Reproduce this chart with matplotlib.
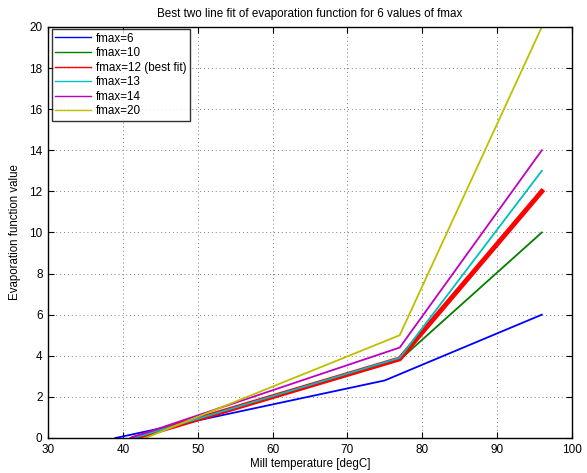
import matplotlib
matplotlib.use("Agg")
import matplotlib.pyplot as plt

plt.rcParams['font.family'] = ['Liberation Sans', 'DejaVu Sans']

labels = ["fmax=6", "fmax=10", "fmax=12 (best fit)", "fmax=13", "fmax=14", "fmax=20"]
colors = ["#0000ff", "#007f00", "#ff0000", "#00bfbf", "#bf00bf", "#bfbf00"]
x6 = [39.0, 75.0, 96.0]
y6 = [0.0, 2.8, 6.0]
x10 = [41.5, 77.0, 96.0]
y10 = [0.0, 3.8, 10.0]
x12 = [41.5, 77.0, 96.0]
y12 = [0.0, 3.85, 12.0]
x13 = [41.5, 77.0, 96.0]
y13 = [0.0, 3.9, 13.0]
x14 = [41.0, 77.0, 96.0]
y14 = [0.0, 4.4, 14.0]
x20 = [43.0, 77.0, 96.0]
y20 = [0.0, 5.0, 20.0]

xs = [x6, x10, x12, x13, x14, x20]
ys = [y6, y10, y12, y13, y14, y20]
widths = [1.3, 1.3, 3.5, 1.3, 1.3, 1.3]

fig = plt.figure(figsize=(5.87, 4.73), dpi=100)
ax = fig.add_axes([0.082, 0.074, 0.892, 0.869])

handles = []
for x, y, c, lab, w in zip(xs, ys, colors, labels, widths):
    ax.plot(x, y, color=c, lw=w)
    h, = ax.plot([], [], color=c, lw=1.0, label=lab)
    handles.append(h)

ax.set_xlim(30, 100)
ax.set_ylim(0, 20)
ax.set_xticks(range(30, 101, 10))
ax.set_yticks(range(0, 21, 2))
ax.grid(True, linestyle=(0, (1, 3)), color='#808080', lw=0.7)
ax.tick_params(direction='in', top=True, right=True, labelsize=8.5, length=4, pad=4)
for s in ax.spines.values():
    s.set_linewidth(1.0)

ax.set_title("Best two line fit of evaporation function for 6 values of fmax", fontsize=8.4, pad=7)
ax.set_xlabel("Mill temperature [degC]", fontsize=8.3, labelpad=2)
ax.set_ylabel("Evaporation function value", fontsize=8.3, labelpad=6)

leg = ax.legend(handles=handles, loc='upper left', fontsize=8.4, frameon=True,
                fancybox=False, edgecolor='black', handlelength=3.1, handletextpad=0.35,
                bbox_to_anchor=(0.007, 0.995),
                borderaxespad=0.0, labelspacing=0.22, borderpad=0.3)
leg.get_frame().set_linewidth(1.0)

fig.savefig("out.png", dpi=100)
